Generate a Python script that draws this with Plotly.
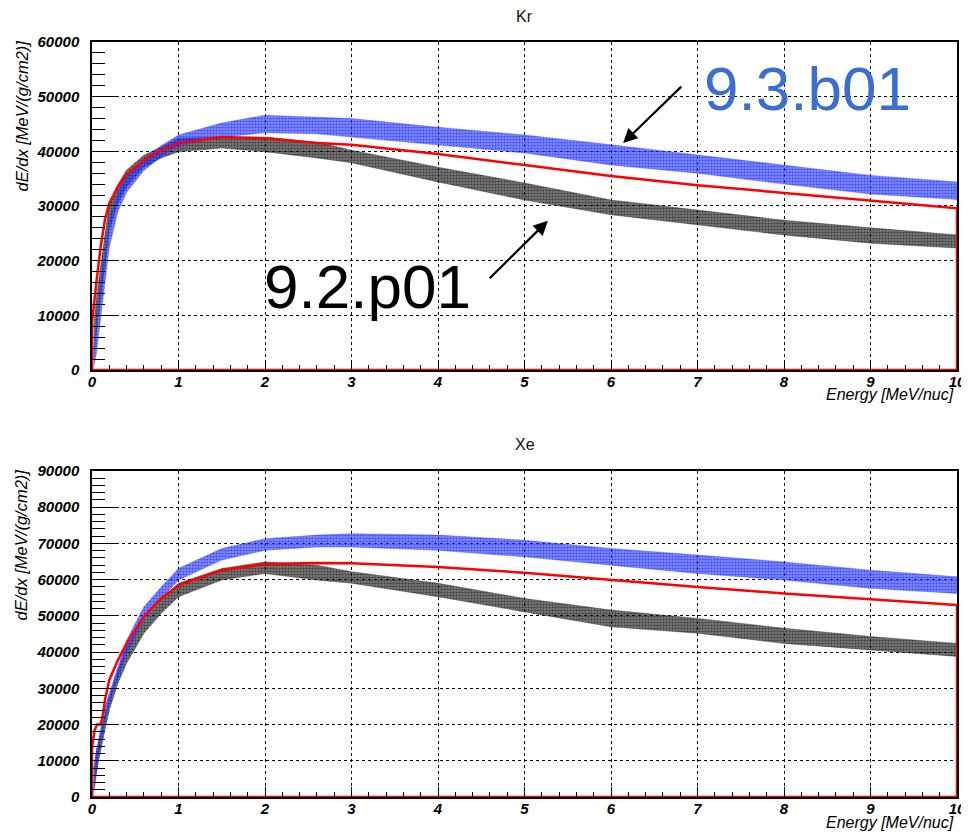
import plotly.graph_objects as go

# ---------------- data ----------------
band_x = [0.02, 0.05, 0.1, 0.15, 0.2, 0.3, 0.4, 0.6, 0.8, 1.0, 1.5, 2.0, 2.6, 3.0, 4.0, 5.0, 6.0, 7.0, 8.0, 9.0, 10.0]

# Kr, 9.3.b01 (blue band) lower / upper envelope
kr_b01_lo = [500, 3000, 10000, 16000, 22500, 29000, 32500, 36500, 39000, 41000, 42600, 43400, 43200, 42600, 41200, 39700, 37500, 36000, 34000, 32200, 31200]
kr_b01_hi = [4000, 8000, 16000, 22000, 27500, 32500, 35500, 38500, 41000, 43000, 45200, 46600, 46300, 46000, 44400, 43000, 41200, 39300, 37400, 35600, 34400]
# Kr, 9.2.p01 (black band)
kr_p01_lo = [2000, 7000, 13000, 19000, 25600, 30500, 33500, 37100, 38800, 39900, 40600, 39900, 38800, 37900, 34400, 31100, 28400, 26500, 24700, 23200, 22300]
kr_p01_hi = [8000, 13000, 19000, 25000, 30500, 34000, 36600, 39300, 40800, 42400, 42600, 42600, 41700, 40200, 37100, 34200, 31100, 29300, 27400, 26000, 24700]
# Kr, red reference curve
kr_red_x = [0, 0, 0.05, 0.1, 0.15, 0.2, 0.3, 0.4, 0.6, 0.8, 1.0, 1.5, 2.0, 2.6, 3.0, 4.0, 5.0, 6.0, 7.0, 8.0, 9.0, 10.0, 10.0, 0]
kr_red_y = [0, 8600, 16000, 22500, 27500, 30500, 33500, 35700, 38400, 40200, 41500, 42600, 42400, 41500, 41200, 39500, 37500, 35500, 33800, 32400, 30900, 29600, 0, 0]

# Xe, 9.3.b01 (blue band)
xe_b01_lo = [1000, 6000, 15000, 21000, 25900, 33000, 39700, 48900, 54800, 59900, 65400, 68100, 69000, 69000, 68100, 66300, 64000, 61700, 59900, 57600, 56200]
xe_b01_hi = [6000, 12000, 19000, 25000, 28600, 36000, 43300, 52500, 58000, 63100, 68600, 71300, 72300, 72700, 72300, 70900, 68600, 66800, 64900, 62600, 60800]
# Xe, 9.2.p01 (black band)
xe_p01_lo = [2000, 7000, 13000, 18500, 24000, 31400, 36900, 45200, 50700, 55300, 59900, 61700, 59900, 59000, 55300, 51100, 47000, 45200, 42400, 40600, 38800]
xe_p01_hi = [8000, 13000, 17600, 23000, 27700, 35000, 41500, 48900, 54400, 59000, 63100, 64900, 64000, 62200, 59000, 54800, 51600, 49300, 46600, 44300, 42400]
# Xe, red reference curve
xe_red_x = [0, 0, 0.03, 0.06, 0.1, 0.12, 0.15, 0.2, 0.3, 0.4, 0.6, 0.8, 1.0, 1.5, 2.0, 2.6, 3.0, 4.0, 5.0, 6.0, 7.0, 8.0, 9.0, 10.0, 10.0, 0]
xe_red_y = [0, 13500, 18500, 20000, 20000, 22000, 26800, 32300, 37800, 42400, 49800, 54800, 58500, 62600, 64300, 64600, 64500, 63500, 61900, 59900, 58000, 56200, 54500, 53000, 0, 0]

panel_titles = ["Kr", "Xe"]
version_labels = ["9.3.b01", "9.2.p01"]
y_title = "dE/dx [MeV/(g/cm2)]"
x_title = "Energy [MeV/nuc]"
y_max = [60000, 90000]

# ---------------- styles ----------------
BLUE_FILL = "rgba(50,70,255,0.62)"
BLUE_DOT = "#0000ff"
BLACK_FILL = "rgba(30,30,30,0.6)"
BLACK_DOT = "#000000"
LABEL_BLUE = "#3A6ED2"
FONT = "Liberation Sans"

fig = go.Figure()


def band(xs, lo, hi, fill, dot, xa, ya):
    return go.Scatter(
        x=list(xs) + list(xs)[::-1],
        y=list(hi) + list(lo)[::-1],
        fill="toself",
        fillcolor=fill,
        fillpattern=dict(shape=".", fgcolor=dot, bgcolor=fill, size=3, solidity=0.4),
        mode="lines",
        line=dict(width=0.6, color=fill),
        hoverinfo="skip",
        showlegend=False,
        xaxis=xa, yaxis=ya,
    )


# top panel (Kr)
fig.add_trace(band(band_x, kr_p01_lo, kr_p01_hi, BLACK_FILL, BLACK_DOT, "x", "y"))
fig.add_trace(band(band_x, kr_b01_lo, kr_b01_hi, BLUE_FILL, BLUE_DOT, "x", "y"))
fig.add_trace(go.Scatter(x=kr_red_x, y=kr_red_y, mode="lines", line=dict(color="#ff0000", width=2.5),
                         showlegend=False, xaxis="x", yaxis="y"))
# bottom panel (Xe)
fig.add_trace(band(band_x, xe_p01_lo, xe_p01_hi, BLACK_FILL, BLACK_DOT, "x2", "y2"))
fig.add_trace(band(band_x, xe_b01_lo, xe_b01_hi, BLUE_FILL, BLUE_DOT, "x2", "y2"))
fig.add_trace(go.Scatter(x=xe_red_x, y=xe_red_y, mode="lines", line=dict(color="#ff0000", width=2.5),
                         showlegend=False, xaxis="x2", yaxis="y2"))

tickfont = dict(family=FONT, size=15, color="black", style="italic", weight="bold")


def xaxis(domain_anchor):
    return dict(
        range=[0, 10], dtick=1, anchor=domain_anchor, automargin=False,
        showline=True, linecolor="black", linewidth=1.5, mirror=True,
        ticks="inside", ticklen=10, tickwidth=1, tickcolor="black",
        minor=dict(dtick=0.2, ticks="inside", ticklen=5, tickcolor="black", showgrid=False),
        showgrid=True, gridcolor="black", gridwidth=1, griddash="dot",
        zeroline=False, tickfont=tickfont, ticklabelstandoff=-3, tickformat="d",
        ticklabeloverflow="allow",
    )


def yaxis(domain, rng, anchor):
    return dict(
        domain=domain, range=[0, rng], dtick=10000, anchor=anchor, automargin=False,
        showline=True, linecolor="black", linewidth=1.5, mirror=True,
        ticks="inside", ticklen=27, tickwidth=1, tickcolor="black",
        minor=dict(dtick=2000, ticks="inside", ticklen=13, tickcolor="black", showgrid=False),
        showgrid=True, gridcolor="black", gridwidth=1, griddash="dot",
        zeroline=False, tickfont=tickfont, ticklabelstandoff=8, tickformat="d",
        ticklabeloverflow="allow",
    )


top_dom = [0.5656, 1.0]
bot_dom = [0.0, 0.4318]

# the page body has an 8px margin, so the figure is offset by 8px inside the window
fig.update_layout(
    width=961, height=826,
    margin=dict(l=84, r=12, t=34, b=37, autoexpand=False),
    paper_bgcolor="white", plot_bgcolor="white",
    xaxis=xaxis("y"),
    yaxis=yaxis(top_dom, y_max[0], "x"),
    xaxis2=xaxis("y2"),
    yaxis2=yaxis(bot_dom, y_max[1], "x2"),
    showlegend=False,
)

ann = []
yfont = dict(family=FONT, size=16.5, color="black", style="italic")
xfont = dict(family=FONT, size=16, color="black", style="italic")
for dom, title in [(top_dom, panel_titles[0]), (bot_dom, panel_titles[1])]:
    # panel title
    ann.append(dict(text=title, xref="paper", yref="paper", x=0.5, y=dom[1], yshift=26,
                    xanchor="center", yanchor="middle", showarrow=False,
                    font=dict(family=FONT, size=16, color="#111111")))
    # y-axis title (rotated, aligned at the top of the axis)
    ann.append(dict(text=y_title, xref="paper", yref="paper", x=0, xshift=-71, y=dom[1], yshift=3,
                    xanchor="center", yanchor="top", textangle=-90, showarrow=False, font=yfont))
    # x-axis title (right aligned)
    ann.append(dict(text=x_title, xref="paper", yref="paper", x=1, xshift=-1, y=dom[0], yshift=-25,
                    xanchor="right", yanchor="middle", showarrow=False, font=xfont))

# big version labels and arrows (top panel)
ann.append(dict(text=version_labels[0], xref="x", yref="y", x=8.27, y=51500,
                xanchor="center", yanchor="middle", showarrow=False,
                font=dict(family=FONT, size=62, color=LABEL_BLUE)))
ann.append(dict(text=version_labels[1], xref="x", yref="y", x=3.18, y=15300,
                xanchor="center", yanchor="middle", showarrow=False,
                font=dict(family=FONT, size=62, color="black")))
ann.append(dict(x=6.14, y=41500, xref="x", yref="y", ax=6.83, ay=52100, axref="x", ayref="y",
                showarrow=True, arrowhead=2, arrowsize=1.3, arrowwidth=2.2, arrowcolor="black", text=""))
ann.append(dict(x=5.27, y=27300, xref="x", yref="y", ax=4.58, ay=16500, axref="x", ayref="y",
                showarrow=True, arrowhead=2, arrowsize=1.3, arrowwidth=2.2, arrowcolor="black", text=""))

fig.update_layout(annotations=ann)

fig.write_html("out.html")
